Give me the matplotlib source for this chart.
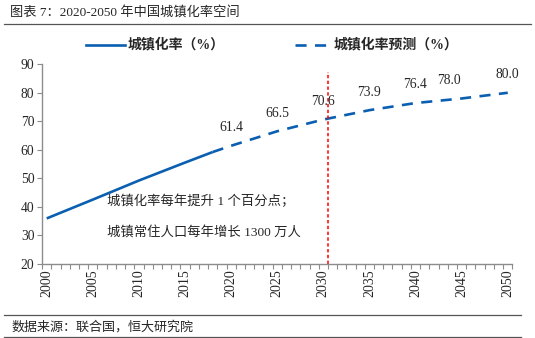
import matplotlib
matplotlib.use('Agg')
import matplotlib.pyplot as plt
import matplotlib.ticker as mticker
from matplotlib.lines import Line2D

# ── data ─────────────────────────────────────────────────────────────────────
hist_years = [2000, 2005, 2010, 2015, 2018]
hist_rate = [35.9, 42.5, 49.2, 55.5, 59.2]

proj_years = [2018, 2020, 2025, 2030, 2035, 2040, 2045, 2050]
proj_rate = [59.2, 61.4, 66.5, 70.6, 73.9, 76.4, 78.0, 80.0]

label_years = [2020, 2025, 2030, 2035, 2040, 2045, 2050]
label_rate = [61.4, 66.5, 70.6, 73.9, 76.4, 78.0, 80.0]

year_ticks = list(range(2000, 2051, 5))
y_ticks = [20, 30, 40, 50, 60, 70, 80, 90]
split_year = 2030.55

# ── style ────────────────────────────────────────────────────────────────────
MIX = ['Liberation Serif', 'Noto Sans CJK SC']
BLUE = '#0b5fb0'
GREY = '#8c8c8c'
TXT = '#262626'

fig = plt.figure(figsize=(5.35, 3.38), dpi=100)
ax = fig.add_axes([0.0787, 0.2198, 0.879, 0.590])

ax.plot(hist_years, hist_rate, color=BLUE, lw=1.9, solid_capstyle='butt')
ax.plot(proj_years, proj_rate, color=BLUE, lw=1.9, dashes=(4.2, 3.2))
ax.vlines(split_year, 20, 87.3, colors='#ff0000', lw=1.1,
          linestyles=(0, (2.2, 1.6)))

for yr, v in zip(label_years, label_rate):
    dx = -9 if yr == 2045 else 0
    ax.annotate(f'{v:.1f}', (yr, v), xytext=(dx, 13), textcoords='offset points',
                ha='center', va='center', fontsize=9.8, family=MIX, color=TXT)

ax.text(2006.5, 41.8, '城镇化率每年提升 1 个百分点；', family=MIX,
        fontsize=9.6, color=TXT, va='center', ha='left')
ax.text(2006.5, 30.9, '城镇常住人口每年增长 1300 万人', family=MIX,
        fontsize=9.6, color=TXT, va='center', ha='left')

# axes
ax.set_xlim(1999.5, 2050.5)
ax.set_ylim(20, 90)
ax.set_yticks(y_ticks)
ax.set_xticks(year_ticks)
ax.set_xticklabels([str(y) for y in year_ticks], rotation=90)
ax.xaxis.set_minor_locator(mticker.FixedLocator([y + 0.5 for y in range(1999, 2051)]))
ax.tick_params(axis='x', which='major', length=0, pad=4, labelsize=10, labelcolor=TXT)
ax.tick_params(axis='x', which='minor', length=3.5, color=GREY, width=0.8)
ax.tick_params(axis='y', length=3.5, color=GREY, width=0.8, labelsize=9.8,
               labelcolor=TXT, pad=2)
for lab in ax.get_xticklabels() + ax.get_yticklabels():
    lab.set_family('Liberation Serif')
for side in ('top', 'right'):
    ax.spines[side].set_visible(False)
for side in ('left', 'bottom'):
    ax.spines[side].set_color(GREY)
    ax.spines[side].set_linewidth(1.0)

# legend drawn in figure pixels across the top
fig.add_artist(Line2D([86 / 535, 125 / 535], [1 - 45 / 338] * 2, color=BLUE, lw=1.9))
fig.text(128 / 535, 1 - 45 / 338, '城镇化率（%）', family=MIX, fontsize=10,
         fontweight='bold', va='center', ha='left', color=TXT)
fig.add_artist(Line2D([295 / 535, 332 / 535], [1 - 45 / 338] * 2, color=BLUE, lw=1.9,
                      dashes=(4.2, 3.2)))
fig.text(334 / 535, 1 - 45 / 338, '城镇化率预测（%）', family=MIX, fontsize=10,
         fontweight='bold', va='center', ha='left', color=TXT)

# header and footer
fig.text(10 / 535, 1 - 12 / 338, '图表 7：2020-2050 年中国城镇化率空间', family=MIX,
         fontsize=9.5, va='center', ha='left', color=TXT)
fig.add_artist(Line2D([4 / 535, 531 / 535], [1 - 23.5 / 338] * 2, color='#555555', lw=0.9))
fig.add_artist(Line2D([4 / 535, 521 / 535], [1 - 315 / 338] * 2, color='#555555', lw=0.9))
fig.text(12 / 535, 1 - 327.5 / 338, '数据来源：联合国，恒大研究院', family=MIX,
         fontsize=9.4, va='center', ha='left', color=TXT)
fig.add_artist(Line2D([4 / 535, 521 / 535], [1 - 337 / 338] * 2, color='#555555', lw=0.9))

fig.savefig('out.png', dpi=100)
